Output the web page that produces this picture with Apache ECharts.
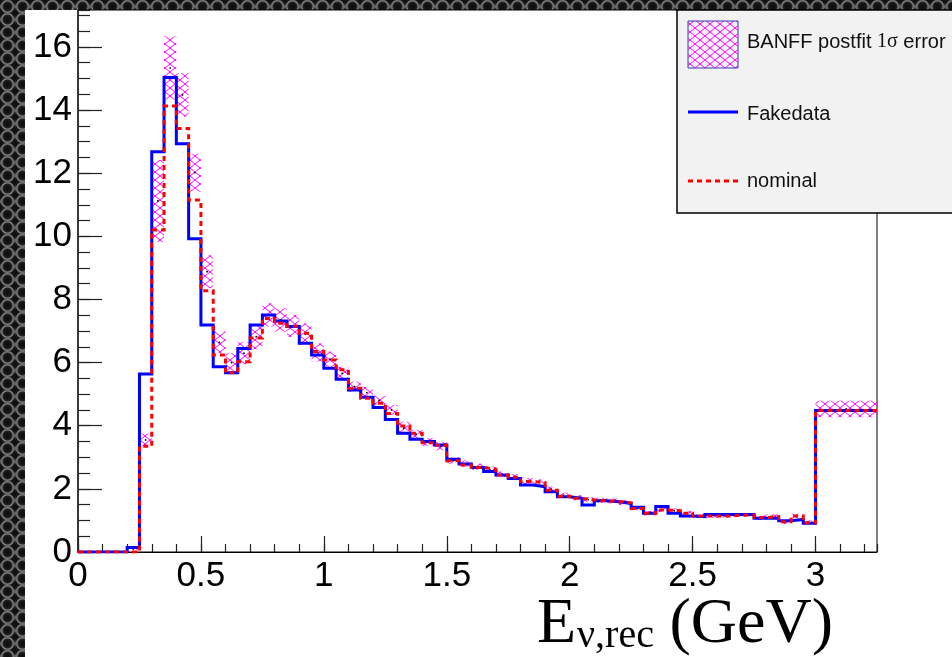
<!DOCTYPE html>
<html>
<head>
<meta charset="utf-8">
<script src="https://cdn.jsdelivr.net/npm/echarts@6/dist/echarts.min.js"></script>
<style>
html,body{margin:0;padding:0;width:952px;height:657px;overflow:hidden;}
body{
  background-color:#3a3a3a;
  background-image:
    radial-gradient(circle at 50% 50%, #0c0c0c 0px, #171717 3.5px, #2a2a2a 4.6px, #8c8c8c 5.6px, #4a4a4a 6.6px, rgba(0,0,0,0) 7.2px),
    radial-gradient(circle at 50% 50%, #0c0c0c 0px, #171717 3.5px, #2a2a2a 4.6px, #8c8c8c 5.6px, #4a4a4a 6.6px, rgba(0,0,0,0) 7.2px);
  background-size:15px 13px;
  background-position:0 0, 7.5px 6.5px;
}
#pad{position:absolute;left:25px;top:10px;width:927px;height:647px;background:#ffffff;}
#chart{position:absolute;left:0;top:0;width:952px;height:657px;}
</style>
</head>
<body>
<div id="pad"></div>
<div id="chart"></div>
<script>
// ---- bin edges (GeV) ----
const binEdges = [0.00,0.05,0.10,0.15,0.20,0.25,0.30,0.35,0.40,0.45,0.50,0.55,0.60,0.65,0.70,0.75,0.80,0.85,0.90,0.95,
  1.00,1.05,1.10,1.15,1.20,1.25,1.30,1.35,1.40,1.45,1.50,1.55,1.60,1.65,1.70,1.75,1.80,1.85,1.90,1.95,
  2.00,2.05,2.10,2.15,2.20,2.25,2.30,2.35,2.40,2.45,2.50,2.55,2.60,2.65,2.70,2.75,2.80,2.85,2.90,2.95,
  3.00,3.25];

// ---- Fakedata (blue solid) ----
const fakedata = [0,0,0,0,0.14,5.64,12.68,15.03,12.93,9.92,
  7.19,5.87,5.68,6.45,7.19,7.51,7.32,7.14,6.61,6.24,
  5.82,5.47,5.13,4.90,4.58,4.20,3.76,3.57,3.50,3.39,
  2.94,2.79,2.68,2.55,2.44,2.33,2.12,2.07,1.91,1.75,
  1.70,1.49,1.62,1.59,1.54,1.42,1.23,1.44,1.23,1.14,
  1.12,1.19,1.19,1.19,1.19,1.07,1.07,0.99,1.03,0.91,
  4.48];

// ---- nominal (red dashed) ----
const nominal = [0,0,0,0,0,3.35,10.20,14.13,13.42,11.15,
  8.28,6.24,5.68,6.03,6.78,7.40,7.25,7.15,6.93,6.35,
  6.08,5.77,5.19,4.87,4.71,4.39,3.99,3.76,3.46,3.38,
  2.89,2.76,2.68,2.62,2.44,2.37,2.23,2.20,1.96,1.77,
  1.70,1.65,1.62,1.60,1.56,1.38,1.23,1.33,1.31,1.23,
  1.14,1.14,1.14,1.17,1.17,1.09,1.12,0.96,1.14,0.93,
  4.48];

// ---- BANFF postfit central value and 1 sigma error ----
const postfit = [0,0,0,0,0.10,3.55,11.12,15.33,14.48,12.02,
  8.88,6.64,6.00,6.30,6.82,7.51,7.35,7.16,6.90,6.32,
  6.11,5.66,5.24,5.05,4.80,4.50,3.92,3.73,3.48,3.35,
  2.90,2.80,2.70,2.62,2.46,2.38,2.25,2.21,1.99,1.80,
  1.72,1.66,1.64,1.62,1.56,1.39,1.23,1.35,1.31,1.23,
  1.14,1.14,1.15,1.17,1.17,1.09,1.13,0.96,1.14,0.93,
  4.53];
const postfitErr = [0,0,0,0,0.03,0.20,1.30,1.00,0.69,0.60,
  0.52,0.34,0.30,0.35,0.40,0.37,0.37,0.35,0.34,0.29,
  0.24,0.21,0.16,0.18,0.14,0.16,0.21,0.14,0.13,0.13,
  0.10,0.10,0.10,0.10,0.09,0.09,0.10,0.09,0.09,0.08,
  0.08,0.08,0.08,0.08,0.08,0.07,0.07,0.08,0.07,0.07,
  0.06,0.06,0.06,0.06,0.06,0.07,0.07,0.07,0.07,0.07,
  0.26];

// ---- axis ticks ----
const xMajorInterval = 0.5, xMinorInterval = 0.1, xMax = 3.25;
const yMajorInterval = 2, yMinorInterval = 0.5, yMax = 17.17;

// ---- labels ----
const legendLabels = ['BANFF postfit ', '1σ', ' error', 'Fakedata', 'nominal'];
const axisTitle = ['E', 'ν,rec', '(GeV)'];

function steps(vals){
  const pts = [];
  for (let i = 0; i < vals.length; i++){
    pts.push([binEdges[i], vals[i]]);
    pts.push([binEdges[i+1], vals[i]]);
  }
  return pts;
}

function makeHatch(){
  const c = document.createElement('canvas');
  c.width = 10; c.height = 8;
  const g = c.getContext('2d');
  g.strokeStyle = '#ff00ff';
  g.lineWidth = 1.0;
  g.beginPath();
  g.moveTo(-1.25, -1); g.lineTo(11.25, 9);
  g.moveTo(-1.25, 9); g.lineTo(11.25, -1);
  g.stroke();
  return c;
}
const hatch = {image: makeHatch(), repeat: 'repeat'};

const bandData = postfit.map((c, i) => [binEdges[i], binEdges[i+1], c - postfitErr[i], c + postfitErr[i], c]);

const chart = echarts.init(document.getElementById('chart'), null, {renderer: 'canvas'});
const sansFont = 'Liberation Sans';
const serifFont = 'Liberation Serif';

const option = {
  animation: false,
  backgroundColor: 'transparent',
  grid: {left: 78, right: 75, top: 10, bottom: 105, show: true, borderColor: '#000', borderWidth: 1, backgroundColor: 'transparent'},
  xAxis: [
    {type: 'value', min: 0, max: xMax, interval: xMajorInterval, position: 'bottom',
     axisLine: {show: true, onZero: false, lineStyle: {color: '#000', width: 1.2}},
     axisTick: {show: true, inside: true, length: 16, lineStyle: {color: '#222', width: 1.2}},
     axisLabel: {show: true, showMaxLabel: false, fontSize: 35, fontFamily: sansFont, color: '#000', margin: 7},
     splitLine: {show: false}},
    {type: 'value', min: 0, max: xMax, interval: xMinorInterval, position: 'bottom',
     axisLine: {show: false, onZero: false},
     axisTick: {show: true, inside: true, length: 8, lineStyle: {color: '#222', width: 1.2}},
     axisLabel: {show: false}, splitLine: {show: false}}
  ],
  yAxis: [
    {type: 'value', min: 0, max: yMax, interval: yMajorInterval, position: 'left',
     axisLine: {show: true, onZero: false, lineStyle: {color: '#222', width: 1.5}},
     axisTick: {show: true, inside: true, length: 24, lineStyle: {color: '#222', width: 1.2}},
     axisLabel: {show: true, showMaxLabel: false, fontSize: 35, fontFamily: sansFont, color: '#000', margin: 6},
     splitLine: {show: false}},
    {type: 'value', min: 0, max: yMax, interval: yMinorInterval, position: 'left',
     axisLine: {show: false, onZero: false},
     axisTick: {show: true, inside: true, length: 12, lineStyle: {color: '#222', width: 1.2}},
     axisLabel: {show: false}, splitLine: {show: false}}
  ],
  series: [
    {
      type: 'custom', name: 'BANFF postfit 1σ error', xAxisIndex: 0, yAxisIndex: 0, z: 1,
      data: bandData,
      encode: {x: [0, 1], y: [2, 3]},
      clip: true,
      renderItem: function(params, api){
        const p0 = api.coord([api.value(0), api.value(3)]);
        const p1 = api.coord([api.value(1), api.value(2)]);
        const pc = api.coord([(api.value(0) + api.value(1)) / 2, api.value(4)]);
        return {type: 'group', children: [
          {type: 'rect', shape: {x: p0[0], y: p0[1], width: p1[0] - p0[0], height: p1[1] - p0[1]}, style: {fill: hatch}},
          {type: 'circle', shape: {cx: pc[0], cy: pc[1], r: 0.9}, style: {fill: '#000'}}
        ]};
      }
    },
    {
      type: 'line', name: 'Fakedata', xAxisIndex: 0, yAxisIndex: 0, z: 3,
      data: steps(fakedata), showSymbol: false, symbol: 'none',
      lineStyle: {color: '#0000ff', width: 3, join: 'miter'}
    },
    {
      type: 'line', name: 'nominal', xAxisIndex: 0, yAxisIndex: 0, z: 4,
      data: steps(nominal), showSymbol: false, symbol: 'none',
      lineStyle: {color: '#ff0000', width: 3, type: [5, 4], join: 'miter'}
    }
  ],
  graphic: [
    {type: 'rect', z: 100, shape: {x: 677, y: 10, width: 300, height: 203}, style: {fill: '#f2f2f2', stroke: '#000', lineWidth: 1.5}},
    {type: 'rect', z: 101, shape: {x: 688, y: 21, width: 50, height: 47}, style: {fill: hatch, stroke: '#3a3ab4', lineWidth: 1}},
    {type: 'line', z: 101, shape: {x1: 688, y1: 112, x2: 738, y2: 112}, style: {stroke: '#0000ff', lineWidth: 3}},
    {type: 'line', z: 101, shape: {x1: 688, y1: 181, x2: 738, y2: 181}, style: {stroke: '#ff0000', lineWidth: 3, lineDash: [5, 4]}},
    {type: 'text', z: 101, x: 747, y: 42, style: {
      text: '{a|' + legendLabels[0] + '}{s|' + legendLabels[1] + '}{a|' + legendLabels[2] + '}',
      rich: {a: {fontSize: 20, fontFamily: sansFont, fill: '#111'}, s: {fontSize: 20, fontFamily: serifFont, fill: '#111'}},
      align: 'left', verticalAlign: 'middle'}},
    {type: 'text', z: 101, x: 747, y: 114, style: {text: legendLabels[3], fontSize: 20, fontFamily: sansFont, fill: '#111', align: 'left', verticalAlign: 'middle'}},
    {type: 'text', z: 101, x: 747, y: 181, style: {text: legendLabels[4], fontSize: 20, fontFamily: sansFont, fill: '#111', align: 'left', verticalAlign: 'middle'}},
    {type: 'text', z: 101, x: 537, y: 625, style: {text: axisTitle[0], fontSize: 64, fontFamily: serifFont, fill: '#000', align: 'left', verticalAlign: 'middle'}},
    {type: 'text', z: 101, x: 577, y: 636, style: {text: axisTitle[1], fontSize: 40, fontFamily: serifFont, fill: '#000', align: 'left', verticalAlign: 'middle'}},
    {type: 'text', z: 101, x: 833, y: 625, style: {text: axisTitle[2], fontSize: 64, fontFamily: serifFont, fill: '#000', align: 'right', verticalAlign: 'middle'}}
  ]
};
chart.setOption(option);
</script>
</body>
</html>
